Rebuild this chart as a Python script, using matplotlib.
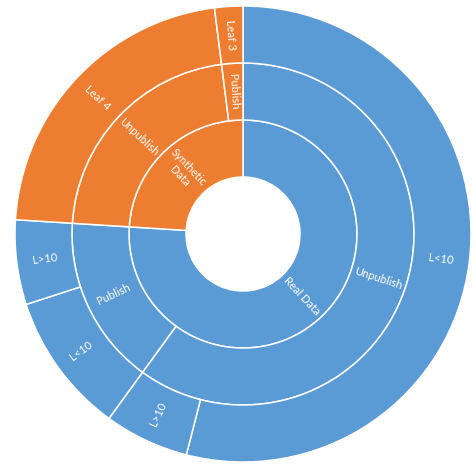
import matplotlib.pyplot as plt
import numpy as np

# data: sunburst, three levels
inner_labels = ["Real Data", "Synthetic Data"]
middle_labels = ["Unpublish", "Publish", "Unpublish", "Publish"]
outer_labels = ["L<10", "L>10", "L<10", "L>10", "Leaf 4", "Leaf 3"]
outer_values = [54, 6, 10, 6, 22, 2]
middle_values = [60, 16, 22, 2]
inner_values = [76, 24]

BLUE = "#5B9BD5"
ORANGE = "#ED7D31"
inner_colors = [BLUE, ORANGE]
middle_colors = [BLUE, BLUE, ORANGE, ORANGE]
outer_colors = [BLUE, BLUE, BLUE, BLUE, ORANGE, ORANGE]

plt.rcParams['font.family'] = ['Lato', 'DejaVu Sans']

fig = plt.figure(figsize=(4.77, 4.68), dpi=100)
ax = fig.add_axes([15/477, 6/468, 456/477, 456/468])

w = 0.25
rings = [
    (inner_values, inner_labels, inner_colors, 0.5),
    (middle_values, middle_labels, middle_colors, 0.75),
    (outer_values, outer_labels, outer_colors, 1.0),
]

for vals, labels, colors, r in rings:
    wedges, _ = ax.pie(vals, radius=r, colors=colors, startangle=90, counterclock=False,
                       wedgeprops=dict(width=w, edgecolor='white', linewidth=1.1),
                       frame=True)
    for wd, lab in zip(wedges, labels):
        mid = (wd.theta1 + wd.theta2) / 2
        rr = r - w / 2
        x = rr * np.cos(np.radians(mid))
        y = rr * np.sin(np.radians(mid))
        # radial text, kept readable
        rot = (mid + 180) % 360 - 180
        if rot > 90:
            rot -= 180
        elif rot < -90:
            rot += 180
        txt = lab.replace(" ", "\n") if len(lab) > 10 else lab
        ax.text(x, y, txt, color='white', fontsize=8, rotation=rot,
                rotation_mode='anchor', ha='center', va='center', linespacing=1.1)

ax.set_xlim(-1, 1)
ax.set_ylim(-1, 1)
ax.axis('off')

fig.savefig("out.png", dpi=100)
